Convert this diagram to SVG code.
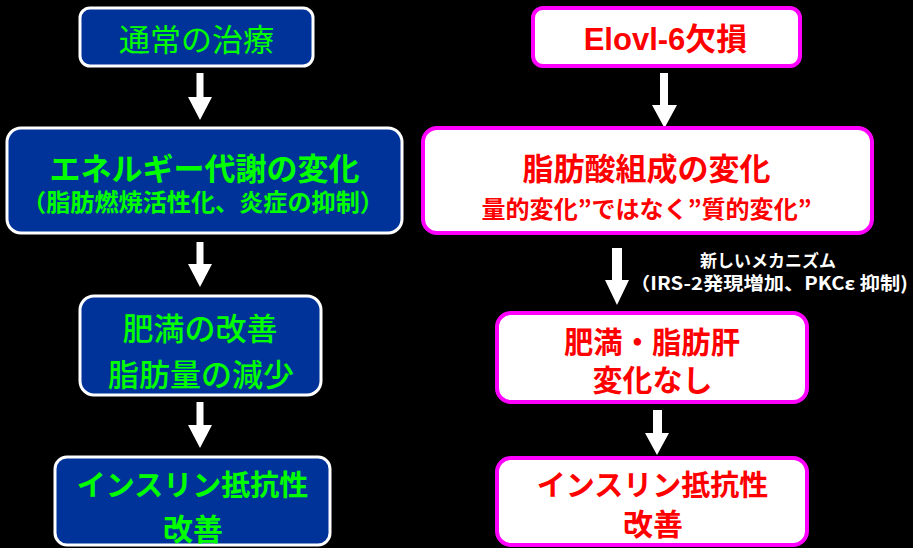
<svg xmlns="http://www.w3.org/2000/svg" width="913" height="548" viewBox="0 0 913 548">
<style>
.bl{fill:#003399;stroke:#ffffff;stroke-width:3}
.wh{fill:#ffffff;stroke:#ff00ff;stroke-width:4}
text{font-family:"Noto Sans CJK JP","Liberation Sans",sans-serif;text-anchor:middle}
.g{fill:#00ff00}
.r{fill:#ff0000;font-weight:bold}
.w{fill:#ffffff;font-weight:bold}
.lat{font-family:"Liberation Sans","Noto Sans CJK JP",sans-serif}
.arr{fill:#ffffff}
</style>
<rect x="0" y="0" width="913" height="548" fill="#000000"/>
<g id="connectors">
<polygon class="arr" points="196.5,73 203.5,73 203.5,97 212,97 200,120 188,97 196.5,97"/>
<polygon class="arr" points="196.5,242 203.5,242 203.5,264 212,264 200,287 188,264 196.5,264"/>
<polygon class="arr" points="196.5,402 203.5,402 203.5,425 212,425 200,448 188,425 196.5,425"/>
<polygon class="arr" points="660,73 668,73 668,105 677,105 664.5,128 652,105 660,105"/>
<polygon class="arr" points="612,248 622,248 622,280 629,280 617,305 605,280 612,280"/>
<polygon class="arr" points="653,410 662,410 662,433 669,433 657,455 645,433 653,433"/>
</g>
<g id="label-mechanism">
<text class="w" x="768" y="267" font-size="17">新しいメカニズム</text>
<text class="w" x="769" y="290" font-size="18" textLength="278" lengthAdjust="spacingAndGlyphs">（IRS-2発現増加、PKCε 抑制)</text>
</g>
<g id="n-usual">
<rect class="bl" x="80" y="8" width="233" height="58" rx="10"/>
<text class="g" x="196.5" y="51" font-size="31">通常の治療</text>
</g>
<g id="n-energy">
<rect class="bl" x="7" y="128" width="395" height="105" rx="14"/>
<text class="g" x="204.5" y="180" font-size="31" font-weight="bold">エネルギー代謝の変化</text>
<text class="g" x="203" y="211" font-size="24" font-weight="bold" textLength="362" lengthAdjust="spacingAndGlyphs">（脂肪燃焼活性化、炎症の抑制）</text>
</g>
<g id="n-obesity">
<rect class="bl" x="80" y="296" width="241" height="99" rx="14"/>
<text class="g" x="200" y="340" font-size="31" font-weight="500">肥満の改善</text>
<text class="g" x="201" y="386" font-size="31" font-weight="500">脂肪量の減少</text>
</g>
<g id="n-insulin-left">
<rect class="bl" x="55" y="457" width="275" height="88" rx="12"/>
<text class="g" x="192.5" y="496" font-size="29" font-weight="bold">インスリン抵抗性</text>
<text class="g" x="193" y="540" font-size="30" font-weight="bold">改善</text>
</g>
<g id="n-elovl">
<rect class="wh" x="533" y="8" width="267" height="58" rx="10"/>
<text class="r" x="665.5" y="50" font-size="31"><tspan class="lat">Elovl-6</tspan>欠損</text>
</g>
<g id="n-fattyacid">
<rect class="wh" x="423" y="128" width="449" height="105" rx="14"/>
<text class="r" x="646.5" y="180" font-size="31">脂肪酸組成の変化</text>
<text class="r" x="646.5" y="218" font-size="24" textLength="330" lengthAdjust="spacingAndGlyphs">量的変化”ではなく”質的変化”</text>
</g>
<g id="n-nochange">
<rect class="wh" x="497" y="313" width="310" height="89" rx="14"/>
<text class="r" x="652" y="353" font-size="30" textLength="176" lengthAdjust="spacingAndGlyphs">肥満・脂肪肝</text>
<text class="r" x="652.5" y="391" font-size="30">変化なし</text>
</g>
<g id="n-insulin-right">
<rect class="wh" x="497" y="458" width="310" height="87" rx="14"/>
<text class="r" x="652.5" y="496" font-size="29">インスリン抵抗性</text>
<text class="r" x="653" y="535" font-size="30">改善</text>
</g>
</svg>
